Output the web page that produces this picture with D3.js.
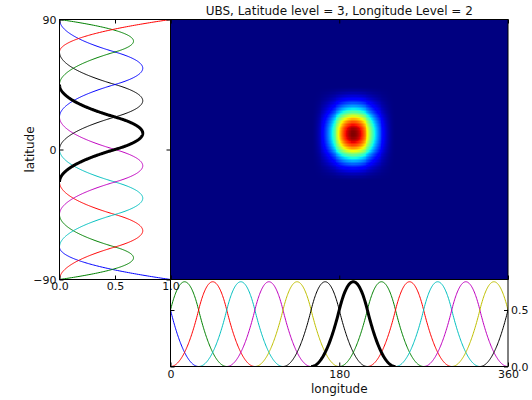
<!DOCTYPE html>
<html>
<head>
<meta charset="utf-8">
<script src="https://cdn.jsdelivr.net/npm/d3@7"></script>
<style>
  body { margin: 0; background: #fff; }
  text { font-family: "DejaVu Sans", sans-serif; fill: #111; }
</style>
</head>
<body>
<div id="chart"></div>
<script>
// knot vectors of the quadratic B-spline bases
const latKnots = [-90, -90, -90, -67.5, -45, -22.5, 0, 22.5, 45, 67.5, 90, 90, 90];
const lonKnots = [-60, -30, 0, 30, 60, 90, 120, 150, 180, 210, 240, 270, 300, 330, 360, 390, 420];
const degree = 2;
const latSelected = 5;
const lonSelected = 7;

// matplotlib classic colour cycle
const cycle = ["#0000ff", "#008000", "#ff0000", "#00bfbf", "#bf00bf", "#bfbf00", "#000000"];

const latTicks = [-90, 0, 90];
const lonTicks = [0, 180, 360];
const valTicks = [0, 0.5, 1.0];
const lonValTicks = [0, 0.5];
const title = "UBS, Latitude level = 3, Longitude Level = 2";

// Cox-de Boor
function basis(knots, i, k, t) {
    if (k === 0) return (knots[i] <= t && t < knots[i + 1]) ? 1 : 0;
    const a = knots[i + k] - knots[i];
    const b = knots[i + k + 1] - knots[i + 1];
    let v = 0;
    if (a > 0) v += (t - knots[i]) / a * basis(knots, i, k - 1, t);
    if (b > 0) v += (knots[i + k + 1] - t) / b * basis(knots, i + 1, k - 1, t);
    return v;
}
const nLat = latKnots.length - degree - 1;
const nLon = lonKnots.length - degree - 1;
const latFn = (i, t) => basis(latKnots, i, degree, Math.min(t, 90 - 1e-9));
const lonFn = (i, t) => basis(lonKnots, i, degree, t);

// jet colormap
function jet(v) {
    const seg = (pts) => {
        for (let j = 1; j < pts.length; j++) {
            if (v <= pts[j][0]) {
                const [x0, y0] = pts[j - 1], [x1, y1] = pts[j];
                return y0 + (y1 - y0) * (v - x0) / (x1 - x0);
            }
        }
        return pts[pts.length - 1][1];
    };
    const r = seg([[0, 0], [0.35, 0], [0.66, 1], [0.89, 1], [1, 0.5]]);
    const g = seg([[0, 0], [0.125, 0], [0.375, 1], [0.64, 1], [0.91, 0], [1, 0]]);
    const b = seg([[0, 0.5], [0.11, 1], [0.34, 1], [0.65, 0], [1, 0]]);
    return d3.rgb(r * 255, g * 255, b * 255).toString();
}

const svgWidth = 532, svgHeight = 400;
const box = { left: 59.5, mid: 170.5, right: 508, top: 19.5, midY: 279.5, bottom: 366.5 };

const svg = d3.select("#chart").append("svg")
    .attr("width", svgWidth)
    .attr("height", svgHeight);

// scales
const xVal = d3.scaleLinear().domain([0, 1]).range([box.left, box.mid]);
const yLat = d3.scaleLinear().domain([-90, 90]).range([box.midY, box.top]);
const xLon = d3.scaleLinear().domain([0, 360]).range([box.mid, box.right]);
const yVal = d3.scaleLinear().domain([0, 0.77]).range([box.bottom, box.midY]);

// ---- heat map (product of selected basis functions)
const color = d3.scaleSequential(jet).domain([0, 0.75 * 0.75]);
svg.append("rect")
    .attr("x", box.mid).attr("y", box.top)
    .attr("width", box.right - box.mid).attr("height", box.midY - box.top)
    .attr("fill", color(0));

const step = 1;
const cells = [];
for (let lon = 0; lon < 360; lon += step) {
    const fl = lonFn(lonSelected, lon + step / 2);
    if (fl <= 0) continue;
    for (let lat = -90; lat < 90; lat += step) {
        const ft = latFn(latSelected, lat + step / 2);
        if (ft <= 0) continue;
        cells.push({ lon, lat, v: fl * ft });
    }
}
svg.append("g")
    .attr("shape-rendering", "crispEdges")
    .selectAll("rect")
    .data(cells)
    .join("rect")
    .attr("x", d => xLon(d.lon))
    .attr("y", d => yLat(d.lat + step))
    .attr("width", d => xLon(d.lon + step) - xLon(d.lon) + 0.6)
    .attr("height", d => yLat(d.lat) - yLat(d.lat + step) + 0.6)
    .attr("fill", d => color(d.v));

// ---- latitude basis functions (left panel)
svg.append("clipPath").attr("id", "clipLat")
    .append("rect")
    .attr("x", box.left).attr("y", box.top)
    .attr("width", box.mid - box.left).attr("height", box.midY - box.top);

const latSamples = d3.range(-90, 90.001, 0.25);
const latLine = d3.line().x(d => xVal(d[1])).y(d => yLat(d[0]));
const latSeries = d3.range(nLat).map(i => ({
    i, pts: latSamples.map(t => [t, latFn(i, t)]).filter((p, j, a) =>
        p[1] > 0 || (a[j - 1] && a[j - 1][1] > 0) || (a[j + 1] && a[j + 1][1] > 0))
}));

svg.append("g")
    .attr("clip-path", "url(#clipLat)")
    .selectAll("path")
    .data(latSeries.sort((a, b) => (a.i === latSelected) - (b.i === latSelected)))
    .join("path")
    .attr("fill", "none")
    .attr("stroke", d => d.i === latSelected ? "#000" : cycle[d.i % cycle.length])
    .attr("stroke-width", d => d.i === latSelected ? 3 : 1)
    .attr("d", d => latLine(d.pts));

// ---- longitude basis functions (bottom panel)
svg.append("clipPath").attr("id", "clipLon")
    .append("rect")
    .attr("x", box.mid).attr("y", box.midY - 2)
    .attr("width", box.right - box.mid).attr("height", box.bottom - box.midY + 2);

const lonLine = d3.line().x(d => xLon(d[0])).y(d => yVal(d[1]));
const lonSeries = d3.range(nLon).map(i => ({
    i, pts: d3.range(lonKnots[i], lonKnots[i + degree + 1] + 0.001, 0.5).map(t => [t, lonFn(i, t)])
}));

svg.append("g")
    .attr("clip-path", "url(#clipLon)")
    .selectAll("path")
    .data(lonSeries.sort((a, b) => (a.i === lonSelected) - (b.i === lonSelected)))
    .join("path")
    .attr("fill", "none")
    .attr("stroke", d => d.i === lonSelected ? "#000" : cycle[d.i % cycle.length])
    .attr("stroke-width", d => d.i === lonSelected ? 3 : 1)
    .attr("d", d => lonLine(d.pts));

// ---- axes
const tick = 4;
const axisStyle = g => g
    .call(g => g.select(".domain").remove())
    .call(g => g.selectAll("line").attr("stroke", "#000"))
    .call(g => g.selectAll("text").style("font-size", "11px").attr("fill", "#111"));

// left panel
svg.append("g").attr("transform", `translate(0,${box.midY})`)
    .call(d3.axisBottom(xVal).tickValues(valTicks).tickFormat(d3.format(".1f")).tickSize(-tick).tickPadding(3))
    .call(axisStyle);
svg.append("g").attr("transform", `translate(0,${box.top})`)
    .call(d3.axisTop(xVal).tickValues(valTicks).tickFormat("").tickSize(-tick))
    .call(axisStyle);
svg.append("g").attr("transform", `translate(${box.left},0)`)
    .call(d3.axisLeft(yLat).tickValues(latTicks).tickSize(-tick).tickPadding(3))
    .call(axisStyle);
svg.append("g").attr("transform", `translate(${box.mid},0)`)
    .call(d3.axisRight(yLat).tickValues(latTicks).tickFormat("").tickSize(-tick))
    .call(axisStyle);

// image panel
svg.append("g").attr("transform", `translate(0,${box.top})`)
    .call(d3.axisTop(xLon).tickValues(lonTicks).tickFormat("").tickSize(-tick))
    .call(axisStyle);
svg.append("g").attr("transform", `translate(0,${box.midY})`)
    .call(d3.axisBottom(xLon).tickValues(lonTicks).tickFormat("").tickSize(-tick))
    .call(axisStyle);

// bottom panel
svg.append("g").attr("transform", `translate(0,${box.bottom})`)
    .call(d3.axisBottom(xLon).tickValues(lonTicks).tickSize(-tick).tickPadding(4))
    .call(axisStyle);
svg.append("g").attr("transform", `translate(${box.right},0)`)
    .call(d3.axisRight(yVal).tickValues(lonValTicks).tickFormat(d3.format(".1f")).tickSize(-tick).tickPadding(3))
    .call(axisStyle);
svg.append("g").attr("transform", `translate(${box.mid},0)`)
    .call(d3.axisLeft(yVal).tickValues(lonValTicks).tickFormat("").tickSize(-tick))
    .call(axisStyle);

// frames
const frames = [
    [box.left, box.top, box.mid, box.midY],
    [box.mid, box.top, box.right, box.midY],
    [box.mid, box.midY, box.right, box.bottom]
];
svg.append("g")
    .selectAll("rect")
    .data(frames)
    .join("rect")
    .attr("x", d => d[0]).attr("y", d => d[1])
    .attr("width", d => d[2] - d[0]).attr("height", d => d[3] - d[1])
    .attr("fill", "none")
    .attr("stroke", "#000")
    .attr("stroke-width", 1);

// labels
svg.append("text")
    .attr("x", (box.mid + box.right) / 2)
    .attr("y", 15)
    .style("text-anchor", "middle")
    .style("font-size", "12px")
    .text(title);

svg.append("text")
    .attr("x", (box.mid + box.right) / 2)
    .attr("y", 393)
    .style("text-anchor", "middle")
    .style("font-size", "12px")
    .text("longitude");

svg.append("text")
    .attr("transform", `translate(34,${(box.top + box.midY) / 2}) rotate(-90)`)
    .style("text-anchor", "middle")
    .style("font-size", "12px")
    .text("latitude");
</script>
</body>
</html>
